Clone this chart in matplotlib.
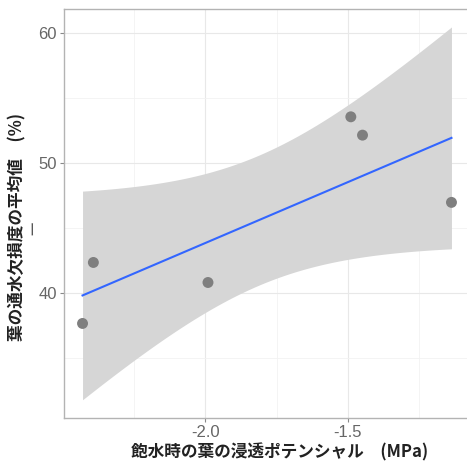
import numpy as np
import matplotlib
matplotlib.use('Agg')
from matplotlib import pyplot as plt

plt.rcParams['font.family'] = ['Noto Sans CJK JP', 'DejaVu Sans']

# leaf osmotic potential at full turgor (MPa) vs mean loss of conductivity (%)
osmotic = [-2.431, -2.393, -1.991, -1.490, -1.449, -1.137]
plc_mean = [37.67, 42.36, 40.82, 53.56, 52.15, 46.98]
xticks = [-2.0, -1.5]
yticks = [40, 50, 60]
t_crit = 2.776  # t(0.975, df=4), as geom_smooth(method='lm') uses

x = np.array(osmotic)
y = np.array(plc_mean)
n = len(x)
slope, icpt = np.polyfit(x, y, 1)
resid = y - (slope * x + icpt)
s = np.sqrt(np.sum(resid ** 2) / (n - 2))
xs = np.linspace(x.min(), x.max(), 80)
fit = slope * xs + icpt
se = s * np.sqrt(1. / n + (xs - x.mean()) ** 2 / np.sum((x - x.mean()) ** 2))

fig = plt.figure(figsize=(4.67, 4.67), dpi=100)
ax = fig.add_axes([64 / 467., 49 / 467., 406 / 467., 409 / 467.])

ax.fill_between(xs, fit - t_crit * se, fit + t_crit * se, color='#d6d6d6', lw=0, zorder=2)
ax.plot(xs, fit, color='#3366FF', lw=1.5, zorder=3)
ax.scatter(x, y, s=62, color='#7f7f7f', edgecolors='none', zorder=4)

ax.set_xlim(-2.496, -1.072)
ax.set_ylim(30.4, 61.85)
ax.set_xticks(xticks)
ax.set_xticklabels(['%.1f' % v for v in xticks], family='Liberation Sans')
ax.set_yticks(yticks)
ax.set_yticklabels([str(v) for v in yticks], family='Liberation Sans')
ax.set_xticks([-2.25, -1.75, -1.25], minor=True)
ax.set_yticks([35, 45, 55], minor=True)
ax.grid(True, which='major', color='#e8e8e8', lw=0.8, zorder=0)
ax.grid(True, which='minor', color='#f2f2f2', lw=0.6, zorder=0)
ax.set_axisbelow(True)
for sp in ax.spines.values():
    sp.set_color('#b3b3b3')
    sp.set_linewidth(1.0)
ax.tick_params(which='major', length=3, color='#888888', labelcolor='#666666', labelsize=12, pad=2)
ax.tick_params(which='minor', length=0)

fig.text(280 / 467., 15 / 467., '飽水時の葉の浸透ポテンシャル　(MPa)', fontsize=12,
         fontweight='bold', ha='center', va='center', color='#222222')
fig.text(17 / 467., 240 / 467., '葉の通水欠損度の平均値　(%)', fontsize=12,
         fontweight='bold', rotation=90, ha='center', va='center', color='#222222')
fig.text(33 / 467., 240 / 467., 'ー', fontsize=11, rotation=90,
         ha='center', va='center', color='#555555')

fig.savefig('out.png', dpi=100)
